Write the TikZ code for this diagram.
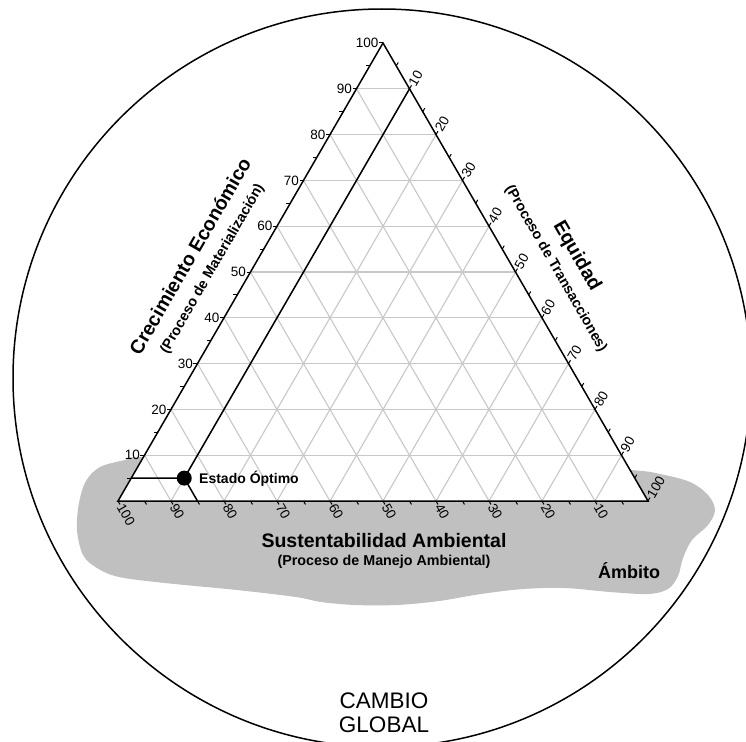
\documentclass[tikz,border=0pt]{standalone}
\usepackage{fontspec}
\setmainfont{Liberation Sans}
\usetikzlibrary{calc}
\definecolor{blobgray}{RGB}{192,192,192}
\definecolor{gridgray}{RGB}{200,200,200}
\tikzset{
  gridln/.style={draw=gridgray, line width=1.1bp},
  edgeln/.style={draw=black, line width=1.5bp},
  tickln/.style={draw=black, line width=1bp},
  ticklab/.style={font=\fontsize{13.5bp}{15bp}\selectfont, inner sep=0.5bp},
  ttl/.style={font=\bfseries\fontsize{19.5bp}{22bp}\selectfont, inner sep=0},
  subttl/.style={font=\bfseries\fontsize{14.3bp}{16bp}\selectfont, inner sep=0},
  bigtxt/.style={font=\fontsize{22.5bp}{25bp}\selectfont, inner sep=0},
}
\begin{document}
\begin{tikzpicture}[x=1bp,y=-1bp]
\useasboundingbox (0,0) rectangle (746,742);
\fill[white] (0,0) rectangle (746,742);
% outer circle
\draw[line width=1.5bp] (382,378) circle (369);
% ambito blob
\fill[blobgray] plot[smooth cycle, tension=0.55] coordinates {
 (86,481) (100,467) (125,460) (143,457) (300,458) (500,462) (630,470)
 (660,474) (690,482) (708,495) (715,510) (708,525) (692,540) (683,558)
 (678,576) (668,589) (648,594) (610,592) (565,588) (523,589) (481,594)
 (439,601) (397,605) (355,605) (321,602) (296,597) (237,590) (165,583)
 (119,577) (97,568) (83,555) (77,530) (79,503)};
% triangle
\coordinate (T) at (383,43);
\coordinate (L) at (118,501);
\coordinate (R) at (648,501);
\fill[white] (T) -- (L) -- (R) -- cycle;
\foreach \i in {1,...,9} {
  \draw[gridln] ($(L)!\i/10!(T)$) -- ($(R)!\i/10!(T)$);
  \draw[gridln] ($(R)!\i/10!(L)$) -- ($(T)!\i/10!(L)$);
  \draw[gridln] ($(L)!\i/10!(R)$) -- ($(T)!\i/10!(R)$);
}
\draw[edgeln, line join=miter] (T) -- (L) -- (R) -- cycle;
% ticks
\foreach \k in {1,...,20} {
  \draw[tickln] ($(L)!\k/20!(T)$) -- ++(-4,0);
  \draw[tickln] ($(T)!\k/20!(R)$) -- ++(2,-3.46);
}
\foreach \k in {0,...,19} {
  \draw[tickln] ($(L)!\k/20!(R)$) -- ++(2,3.46);
}
% tick labels
\foreach \v in {10,20,...,100} {
  \node[ticklab, anchor=east] (la\v) at ($(L)!\v/100!(T)+(-4,0)$) {\v};
  \node[ticklab, anchor=west, rotate=60] (le\v) at ($(T)!\v/100!(R)+(2,-3.46)$) {\v};
}
\foreach \v [evaluate=\v as \f using (100-\v)/100] in {10,20,...,100} {
  \node[ticklab, anchor=west, rotate=-60] (ls\v) at ($(L)!\f!(R)+(2,3.46)$) {\v};
}
% optimum state (5 / 85 / 10)
\coordinate (pa) at ($(L)!0.05!(T)$);
\coordinate (pr) at ($(R)!0.05!(T)$);
\coordinate (pe) at ($(T)!0.10!(R)$);
\coordinate (ps) at ($(L)!0.15!(R)$);
\coordinate (popt) at ($(pa)!0.10/0.95!(pr)$);
\draw[edgeln] (pa) -- (popt) -- (pe);
\draw[edgeln] (popt) -- (ps);
\node[circle, fill=black, inner sep=0, minimum size=15bp] (opt) at (popt) {};
\node[anchor=base west, inner sep=0, font=\bfseries\fontsize{14bp}{16bp}\selectfont] (optlab) at (199,483.3) {Estado Óptimo};
% axis titles
\node[ttl, rotate=60] (crec) at (189.9,256) {Crecimiento Económico};
\node[subttl, rotate=60] (crecsub) at (212.6,268.8) {(Proceso de Materialización)};
\node[ttl, rotate=-60] (equi) at (576.6,256) {Equidad};
\node[subttl, rotate=-60] (equisub) at (555.8,268.8) {(Proceso de Transacciones)};
\node[ttl, anchor=base] (sust) at (384,547) {Sustentabilidad Ambiental};
\node[subttl, anchor=base] (sustsub) at (384,565) {(Proceso de Manejo Ambiental)};
\node[ttl, anchor=base, font=\bfseries\fontsize{18bp}{20bp}\selectfont] (ambito) at (629,578) {Ámbito};
\node[bigtxt, anchor=base] (cambio) at (384,708.3) {CAMBIO};
\node[bigtxt, anchor=base] (global) at (384,732.7) {GLOBAL};
\end{tikzpicture}
\end{document}
